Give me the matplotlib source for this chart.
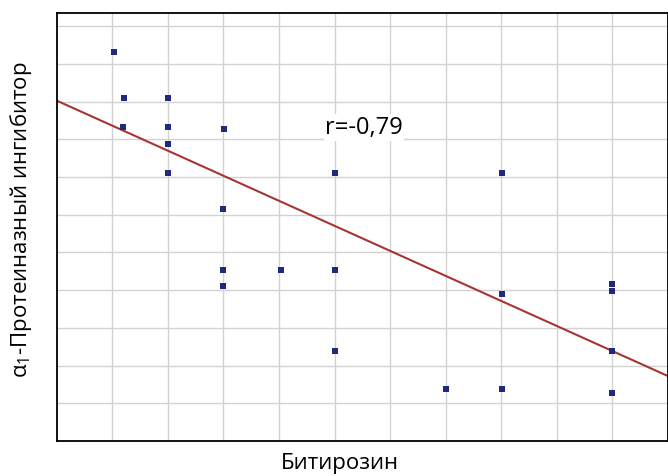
import matplotlib
matplotlib.use("Agg")
import matplotlib.pyplot as plt
import numpy as np

plt.rcParams['font.family'] = ['Open Sans', 'DejaVu Sans']
plt.rcParams['mathtext.fontset'] = 'custom'
plt.rcParams['mathtext.rm'] = 'Open Sans'
plt.rcParams['mathtext.it'] = 'Open Sans'

# значения (условные единицы сетки)
bityrosine = [1.02, 1.2, 2.0, 1.19, 2.0, 3.01, 2.0, 2.0, 5.01, 3.0, 8.02,
              3.0, 4.03, 5.0, 3.0, 5.0, 8.02, 10.0, 10.0, 10.0, 7.0, 8.02, 10.0]
inhibitor = [10.31, 9.08, 9.08, 8.32, 8.32, 8.27, 7.88, 7.10, 7.10, 6.16, 7.10,
             4.54, 4.54, 4.54, 4.10, 2.38, 3.89, 4.16, 3.98, 2.38, 1.39, 1.39, 1.28]

# линия регрессии, как она нарисована в оригинале
fit_slope = -0.663
fit_intercept = 9.02

r_text = "r=-0,79"

x = np.array(bityrosine)
y = np.array(inhibitor)

fig = plt.figure(figsize=(6.68, 4.76), dpi=100)
ax = fig.add_axes([0.0853, 0.0735, 0.914, 0.8995])

ax.set_xlim(0, 11)
ax.set_ylim(0, 11.35)
ax.set_xticks(np.arange(1, 11))
ax.set_yticks(np.arange(1, 12))
ax.tick_params(length=0, labelbottom=False, labelleft=False)
ax.grid(True, color='#d2d2d2', linewidth=1.0)
ax.set_axisbelow(True)

for s in ax.spines.values():
    s.set_linewidth(1.3)
    s.set_color('black')

xs = np.array(ax.get_xlim())
ax.plot(xs, fit_slope * xs + fit_intercept, color='#a83434', linewidth=1.5, zorder=2)
ax.scatter(x, y, marker='s', s=22, color='#1c2a80', zorder=3, linewidths=0)

ax.text(4.83, 8.3, r_text, fontsize=17, va='center', ha='left',
        bbox=dict(facecolor='white', edgecolor='none', pad=1))

ax.set_xlabel('Битирозин', fontsize=16)
ax.xaxis.set_label_coords(0.463, -0.028)
ax.set_ylabel('α$_1$-Протеиназный ингибитор', fontsize=16)
ax.yaxis.set_label_coords(-0.038, 0.516)

fig.savefig('out.png', dpi=100)
